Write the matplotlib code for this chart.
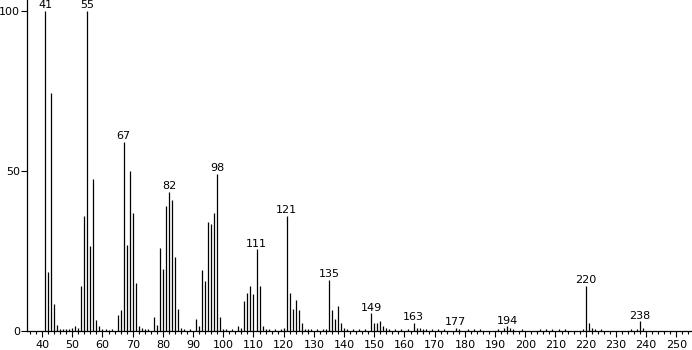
import matplotlib
matplotlib.use("Agg")
import matplotlib.pyplot as plt
from matplotlib.ticker import MultipleLocator

# m/z values and relative intensities
mz = [41, 42, 43, 44, 45, 46, 47, 48, 49, 50, 51, 52, 53, 54, 55, 56, 57, 58, 59, 60,
      61, 62, 63, 65, 66, 67, 68, 69, 70, 71, 72, 73, 74, 75, 77, 78, 79, 80, 81, 82,
      83, 84, 85, 86, 87, 89, 91, 92, 93, 94, 95, 96, 97, 98, 99, 100, 101, 103, 105, 106,
      107, 108, 109, 110, 111, 112, 113, 114, 115, 117, 119, 120, 121, 122, 123, 124, 125, 126, 127, 128,
      129, 131, 133, 134, 135, 136, 137, 138, 139, 140, 141, 143, 145, 147, 149, 150, 151, 152, 153, 154,
      155, 157, 159, 161, 163, 164, 165, 166, 167, 169, 171, 173, 177, 178, 181, 183, 185, 191, 193, 194,
      195, 196, 199, 205, 207, 209, 211, 213, 219, 220, 221, 222, 223, 225, 235, 237, 238, 239]
intensity = [100, 18.5, 74.5, 8.5, 2, 0.5, 0.5, 0.5, 0.5, 1, 1.5, 1, 14, 36, 100, 26.5, 47.5, 3.5, 1.5, 0.5,
             0.5, 0.3, 0.5, 5, 6.5, 59, 27, 50, 37, 15, 1.5, 0.8, 0.5, 0.5, 4.5, 2, 26, 19.5, 39, 43.5,
             41, 23, 7, 1, 0.5, 0.5, 3.8, 1.5, 19, 15.5, 34, 33.5, 37, 49, 4.5, 0.5, 0.5, 0.5, 1.5, 1,
             9.5, 12, 14, 11.5, 25.5, 14, 1.5, 0.5, 0.5, 0.5, 0.5, 0.8, 36, 11.8, 6.8, 9.7, 6.6, 2.6, 0.5, 0.5,
             0.5, 0.5, 0.5, 0.5, 16, 6.5, 3.8, 7.8, 2.5, 1, 0.5, 0.5, 0.5, 0.5, 5.5, 2.5, 2.5, 3, 1.5, 0.8,
             0.5, 0.5, 0.5, 0.5, 2.5, 1, 1, 0.7, 0.5, 0.5, 0.5, 0.5, 1, 0.5, 0.5, 0.5, 0.5, 0.5, 1, 1.5,
             1, 0.5, 0.5, 0.5, 0.5, 0.5, 0.5, 0.5, 0.5, 14, 2.5, 1, 0.5, 0.5, 0.5, 0.5, 3, 1]
labelled = [41, 55, 67, 82, 98, 111, 121, 135, 149, 163, 177, 194, 220, 238]

fig = plt.figure(figsize=(6.92, 3.5), dpi=100)
ax = fig.add_axes([27/692, 19/350, 665/692, 331/350])

ax.vlines(mz, 0, intensity, color='black', linewidth=0.9)

for m in labelled:
    h = intensity[mz.index(m)]
    ax.annotate(str(m), (m, h), xytext=(0, 0.5), textcoords='offset points',
                ha='center', va='bottom', fontsize=8)

ax.set_xlim(35, 255.2)
ax.set_ylim(0, 103.4)
ax.xaxis.set_major_locator(MultipleLocator(10))
ax.xaxis.set_minor_locator(MultipleLocator(2))
ax.set_yticks([0, 50, 100])
ax.tick_params(axis='x', which='major', length=4, width=0.8, labelsize=8, pad=2.5)
ax.tick_params(axis='x', which='minor', length=2, width=0.8)
ax.tick_params(axis='y', length=4, width=0.8, labelsize=8, pad=1)
for s in ['top', 'right']:
    ax.spines[s].set_visible(False)
for s in ['left', 'bottom']:
    ax.spines[s].set_linewidth(0.9)

fig.savefig('out.png', dpi=100)
